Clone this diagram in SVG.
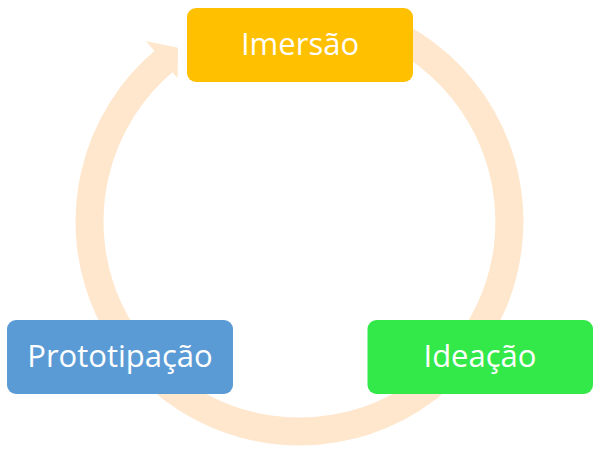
<svg xmlns="http://www.w3.org/2000/svg" width="602" height="454" viewBox="0 0 602 454">
  <defs>
    <style>
      .ring { fill: none; stroke: #FEE7CD; stroke-width: 28; }
      .head { fill: #FEE7CD; stroke: none; }
      .box { stroke: none; }
      .label { font-family: "Open Sans", "Liberation Sans", sans-serif; font-size: 31px; fill: #FFFFFF; text-anchor: middle; }
    </style>
  </defs>
  <rect width="602" height="454" fill="#FFFFFF"/>
  <g id="connectors">
    <path class="ring" d="M 384.9 29.7 A 210 210 0 0 1 336.0 428.3 A 210 210 0 0 1 165.9 59.5"/>
    <polygon class="head" points="145.9,41.0 177.9,47.8 177.7,78.3"/>
  </g>
  <g id="node-imersao">
    <rect class="box" x="187" y="8" width="226" height="74" rx="9" fill="#FFC000"/>
    <text class="label" x="300" y="55">Imersão</text>
  </g>
  <g id="node-ideacao">
    <rect class="box" x="367.5" y="320" width="225.5" height="74" rx="9" fill="#33E94A"/>
    <text class="label" x="480" y="367">Ideação</text>
  </g>
  <g id="node-prototipacao">
    <rect class="box" x="7" y="320" width="226" height="74" rx="9" fill="#5B9BD5"/>
    <text class="label" x="120" y="367">Prototipação</text>
  </g>
</svg>
